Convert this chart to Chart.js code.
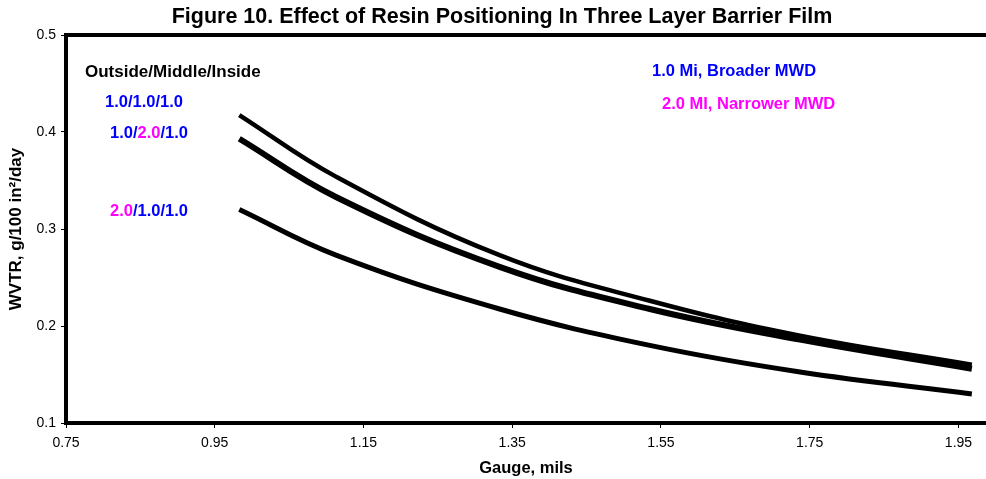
<!DOCTYPE html>
<html>
<head>
<meta charset="utf-8">
<script src="https://cdn.jsdelivr.net/npm/chart.js@4"></script>
<style>
  body { margin: 0; background: #fff; }
  #wrap { width: 986px; height: 479px; }
</style>
</head>
<body>
<div id="wrap"><canvas id="wvtrChart" width="986" height="479"></canvas></div>
<script>
// values
const gauge = [0.983, 1.113, 1.333, 1.535, 1.737, 1.968];
const wvtr111 = [0.4175, 0.354, 0.273, 0.226, 0.190, 0.160];
const wvtr121 = [0.393, 0.333, 0.261, 0.2175, 0.186, 0.156];
const wvtr211 = [0.320, 0.273, 0.2175, 0.180, 0.1526, 0.130];
const xTicks = [0.75, 0.95, 1.15, 1.35, 1.55, 1.75, 1.95];
const yTicks = [0.1, 0.2, 0.3, 0.4, 0.5];

const BLUE = '#0000ff';
const MAGENTA = '#ff00ff';
const FONT = '"Liberation Sans", Arial, sans-serif';

function pts(ys) {
    return gauge.map((g, i) => ({ x: g, y: ys[i] }));
}

// title, top frame line and the text labels inside the plot
const decorations = {
    id: 'decorations',
    afterDraw(chart) {
        const ctx = chart.ctx;
        const a = chart.chartArea;
        ctx.save();
        ctx.strokeStyle = '#000';
        ctx.lineWidth = 4;
        ctx.beginPath();
        ctx.moveTo(a.left - 2, a.top);
        ctx.lineTo(a.right, a.top);
        ctx.stroke();

        ctx.textBaseline = 'middle';
        ctx.textAlign = 'center';
        ctx.fillStyle = '#000';
        ctx.font = 'bold 21.5px ' + FONT;
        ctx.fillText('Figure 10. Effect of Resin Positioning In Three Layer Barrier Film', 502, 17);

        ctx.textAlign = 'left';
        function parts(x, y, list) {
            list.forEach(p => {
                ctx.fillStyle = p[1];
                ctx.fillText(p[0], x, y);
                x += ctx.measureText(p[0]).width;
            });
        }
        ctx.font = 'bold 17px ' + FONT;
        parts(85, 72, [['Outside/Middle/Inside', '#000']]);
        ctx.font = 'bold 16.5px ' + FONT;
        parts(105, 102, [['1.0/1.0/1.0', BLUE]]);
        parts(110, 133, [['1.0/', BLUE], ['2.0', MAGENTA], ['/1.0', BLUE]]);
        parts(110, 211, [['2.0', MAGENTA], ['/1.0/1.0', BLUE]]);
        parts(652, 71, [['1.0 Mi, Broader MWD', BLUE]]);
        parts(662, 104, [['2.0 MI, Narrower MWD', MAGENTA]]);
        ctx.restore();
    }
};

new Chart(document.getElementById('wvtrChart'), {
    type: 'line',
    data: {
        datasets: [
            { label: '1.0/1.0/1.0', data: pts(wvtr111), borderColor: '#000', borderWidth: 4.5 },
            { label: '1.0/2.0/1.0', data: pts(wvtr121), borderColor: '#000', borderWidth: 6 },
            { label: '2.0/1.0/1.0', data: pts(wvtr211), borderColor: '#000', borderWidth: 5 }
        ]
    },
    options: {
        responsive: false,
        animation: false,
        layout: { padding: { top: 35, right: 0, left: 0, bottom: 0 } },
        elements: {
            point: { radius: 0 },
            line: { tension: 0.4, borderCapStyle: 'butt' }
        },
        plugins: {
            legend: { display: false },
            title: { display: false },
            tooltip: { enabled: false }
        },
        scales: {
            x: {
                type: 'linear',
                min: 0.75,
                max: 1.987,
                afterBuildTicks: s => { s.ticks = xTicks.map(v => ({ value: v })); },
                afterFit: s => { s.height = 56; },
                ticks: {
                    color: '#000',
                    font: { family: FONT, size: 14 },
                    padding: 7,
                    maxRotation: 0,
                    callback: v => v.toFixed(2)
                },
                grid: { drawOnChartArea: false, tickLength: 5, tickColor: '#000', tickWidth: 1 },
                border: { color: '#000', width: 4 },
                title: {
                    display: true,
                    text: 'Gauge, mils',
                    color: '#000',
                    font: { family: FONT, size: 16.5, weight: 'bold' },
                    padding: { top: 0, bottom: 1 }
                }
            },
            y: {
                min: 0.1,
                max: 0.5,
                afterBuildTicks: s => { s.ticks = yTicks.map(v => ({ value: v })); },
                afterFit: s => { s.width = 66; },
                ticks: {
                    color: '#000',
                    font: { family: FONT, size: 14 },
                    padding: 5,
                    callback: v => v.toFixed(1)
                },
                grid: { drawOnChartArea: false, tickLength: 5, tickColor: '#000', tickWidth: 1 },
                border: { color: '#000', width: 4 },
                title: {
                    display: true,
                    text: 'WVTR, g/100 in\u00b2/day',
                    color: '#000',
                    font: { family: FONT, size: 17, weight: 'bold' },
                    padding: { top: 6, bottom: 0 }
                }
            }
        }
    },
    plugins: [decorations]
});
</script>
</body>
</html>
